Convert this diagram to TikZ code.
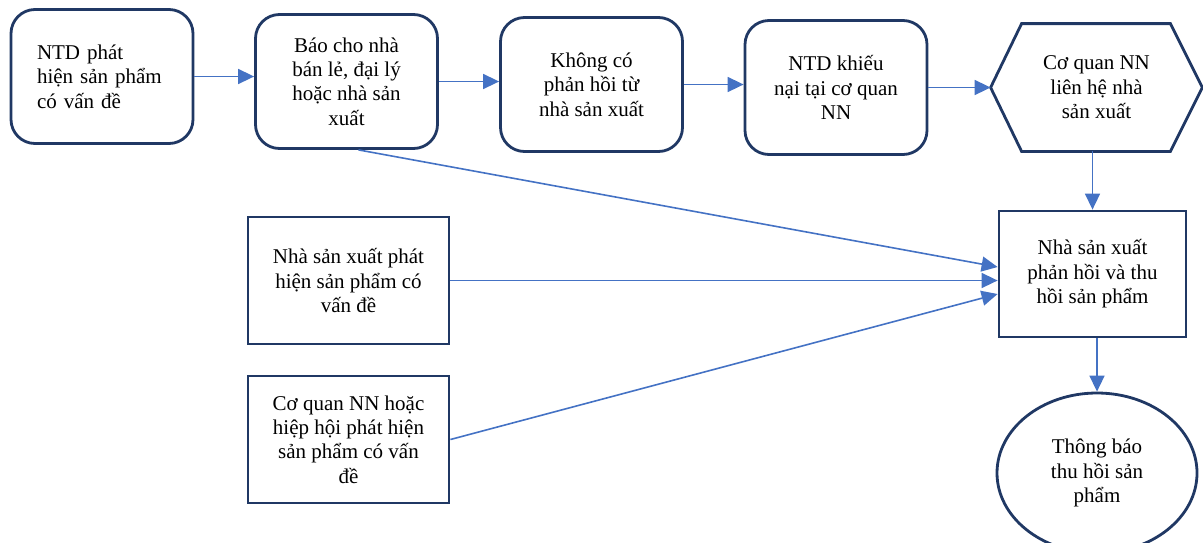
\documentclass[tikz,border=0pt]{standalone}
\usepackage{fontspec}
\setmainfont{Liberation Serif}
\usetikzlibrary{shapes.geometric,arrows.meta}
\definecolor{khung}{RGB}{32,56,100}
\definecolor{xanh}{RGB}{68,114,196}
\def\donvi{0.5pt}

\begin{document}
\begin{tikzpicture}[x=\donvi,y=-\donvi,
  font=\fontsize{10.5pt}{12.2pt}\selectfont,
  hopbo/.style={draw=khung,line width=1.4pt,rounded corners=12pt,
    align=center,inner sep=0pt,minimum width=91pt,minimum height=67pt},
  hopvuong/.style={draw=khung,line width=1.4pt,align=center,inner sep=0pt,
    minimum width=100.5pt,minimum height=63.5pt},
  noi/.style={xanh,line width=0.8pt,-{Triangle[length=8pt,width=7.5pt]}}]

  \useasboundingbox (0,0) rectangle (1203,542);

  % hang tren
  \node[hopbo,align=left,text width=65pt] (ntd) at (102,76.5)
  {NTD phát\\hiện sản phẩm\\có vấn đề};
  \node[hopbo] (bao) at (346.5,81.5)
  {Báo cho nhà\\bán lẻ, đại lý\\hoặc nhà sản\\xuất};
  \node[hopbo] (khong) at (591.5,84.5)
  {Không có\\phản hồi từ\\nhà sản xuất};
  \node[hopbo] (khieu) at (836,87.5)
  {NTD khiếu\\nại tại cơ quan\\NN};

  % luc giac
  \node[align=center,inner sep=0pt,minimum width=105.5pt,minimum height=63.5pt]
  (hex) at (1096.5,87.5) {Cơ quan NN\\liên hệ nhà\\sản xuất};
  \draw[khung,line width=1.4pt] (hex.west)
  -- ([xshift=15.5pt]hex.north west) -- ([xshift=-16pt]hex.north east)
  -- (hex.east)
  -- ([xshift=-16pt]hex.south east) -- ([xshift=15.5pt]hex.south west)
  -- cycle;

  % cot trai
  \node[hopvuong] (nsxph) at (348.5,280.5)
  {Nhà sản xuất phát\\hiện sản phẩm có\\vấn đề};
  \node[hopvuong] (cq) at (348.5,439.5)
  {Cơ quan NN hoặc\\hiệp hội phát hiện\\sản phẩm có vấn\\đề};

  % cot phai
  \node[hopvuong,minimum width=93.5pt,minimum height=63pt] (nsx) at (1092.5,274)
  {Nhà sản xuất\\phản hồi và thu\\hồi sản phẩm};
  \node[ellipse,draw=khung,line width=1.4pt,align=center,inner sep=0pt,
    minimum width=100pt,minimum height=80pt] (tb) at (1097,473)
  {Thông báo\\thu hồi sản\\phẩm};

  % mui ten
  \draw[noi] (ntd.east) -- (ntd.east -| bao.west);
  \draw[noi] (bao.east) -- (bao.east -| khong.west);
  \draw[noi] (khong.east) -- (khong.east -| khieu.west);
  \draw[noi] (khieu.east) -- (hex.west);
  \draw[noi] (hex.south -| nsx.north) -- (nsx.north);
  \draw[noi] ([xshift=6pt]bao.south) -- ([yshift=3.5pt]nsx.west);
  \draw[noi] (nsxph.east) -- (nsxph.east -| nsx.west);
  \draw[noi] (cq.east) -- ([yshift=-10pt]nsx.west);
  \draw[noi] (nsx.south -| tb.north) -- (tb.north);

\end{tikzpicture}
\end{document}
